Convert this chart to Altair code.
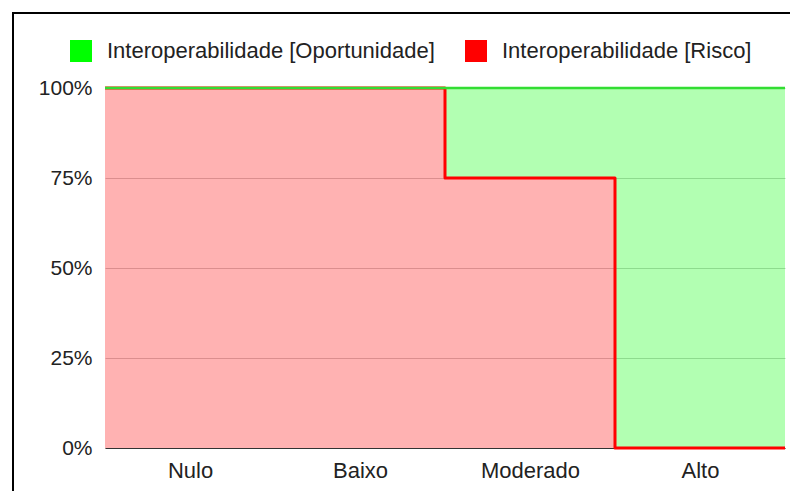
import altair as alt
import pandas as pd

categories = ["Nulo", "Baixo", "Moderado", "Alto"]
risco = [100, 100, 75, 0]
oportunidade = [0, 0, 25, 100]
serie_op = "Interoperabilidade [Oportunidade]"
serie_ri = "Interoperabilidade [Risco]"
y_ticks = [0, 0.25, 0.5, 0.75, 1.0]

rows = []
n = len(categories)
for i in range(n + 1):
    j = min(i, n - 1)  # closing edge of the last step repeats the last category
    rows.append({"idx": i, "serie": serie_ri, "rank": 0, "valor": risco[j]})
    rows.append({"idx": i, "serie": serie_op, "rank": 1, "valor": oportunidade[j]})
df = pd.DataFrame(rows)

label_expr = "[" + ",".join("'" + c + "'" for c in categories) + "][floor(datum.value)]"

FONT = "Liberation Sans"

base = alt.Chart(df).transform_stack(
    stack="valor", groupby=["idx"], sort=[alt.SortField("rank", order="ascending")],
    offset="normalize", as_=["y0", "y1"]
)

x_enc = alt.X(
    "idx:Q",
    scale=alt.Scale(domain=[0, n], nice=False, zero=False),
    axis=alt.Axis(
        values=[i + 0.5 for i in range(n)], labelExpr=label_expr, title=None,
        ticks=False, grid=False, domain=True, domainColor="#333333", domainWidth=1,
        labelFontSize=22, labelFont=FONT, labelColor="#222222", labelPadding=12,
    ),
)
y_enc = alt.Y(
    "y1:Q",
    scale=alt.Scale(domain=[0, 1], nice=False),
    axis=alt.Axis(
        values=y_ticks, format=".0%", title=None, ticks=False, domain=False,
        grid=True, gridColor="#cccccc", labelFontSize=21, labelFont=FONT,
        labelColor="#222222", labelPadding=13,
    ),
)

area = base.mark_area(interpolate="step-after", opacity=0.3).encode(
    x=x_enc,
    y=y_enc,
    y2="y0:Q",
    color=alt.Color(
        "serie:N",
        scale=alt.Scale(domain=[serie_op, serie_ri], range=["#00ff00", "#ff0000"]),
        legend=alt.Legend(
            title=None, orient="none", legendX=-35, legendY=-48, direction="horizontal",
            symbolType="square", symbolSize=484, symbolOpacity=1, symbolStrokeWidth=0,
            labelFontSize=22, labelFont=FONT, labelColor="#222222", labelOffset=15,
            columnPadding=30, padding=0, labelLimit=500,
        ),
    ),
)

line_ri = base.transform_filter(alt.datum.serie == serie_ri).mark_line(
    interpolate="step-after", color="#ff0000", strokeWidth=3, strokeJoin="round"
).encode(x="idx:Q", y="y1:Q")

line_op = base.transform_filter(alt.datum.serie == serie_op).mark_line(
    interpolate="step-after", color="#33dd33", strokeWidth=2.5
).encode(x="idx:Q", y="y1:Q")

frame = alt.Chart(alt.Data(values=[{"f": 1}])).mark_rect(
    filled=False, stroke="black", strokeWidth=2, clip=False
).encode(
    x=alt.value(-92), x2=alt.value(760), y=alt.value(-75), y2=alt.value(460)
)

chart = alt.layer(area, line_ri, line_op, frame).properties(
    width=680, height=360,
    autosize=alt.AutoSizeParams(type="none"),
    padding={"left": 97, "top": 80, "right": 5, "bottom": 43},
).configure_view(stroke=None)

chart.save("out.html", embed_options={"renderer": "svg", "actions": False})
